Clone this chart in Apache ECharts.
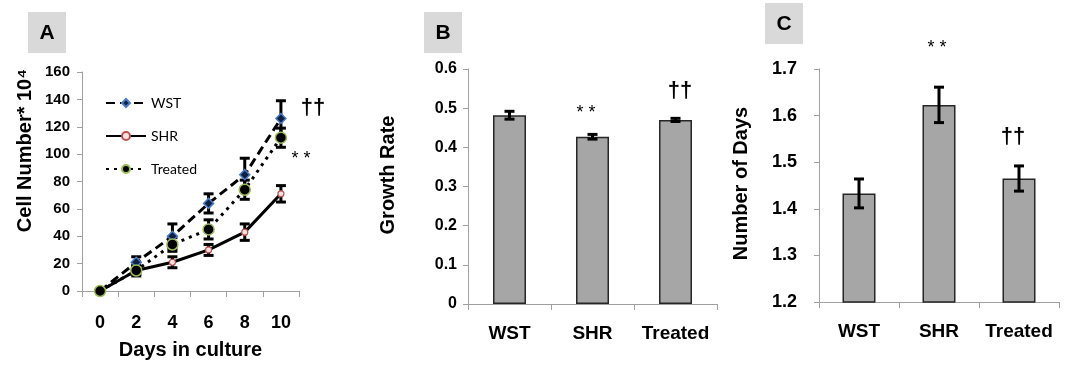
<!DOCTYPE html>
<html>
<head>
<meta charset="utf-8">
<title>Cell growth</title>
<script src="https://cdn.jsdelivr.net/npm/echarts@6/dist/echarts.min.js"></script>
<style>
  html, body { margin: 0; padding: 0; background: #fff; }
  #chart { width: 1075px; height: 365px; }
</style>
</head>
<body>
<div id="chart"></div>
<script>
// panel A - cell number over days in culture
const days = ['0', '2', '4', '6', '8', '10'];
const wst = [0, 21, 40, 64, 85, 126];
const wstErr = [0, 4, 9, 7, 12, 13];
const shr = [0, 15, 21, 30, 43, 71];
const shrErr = [0, 3, 4, 4, 6, 6];
const treated = [0, 15, 34, 45, 74, 112];
const treatedErr = [0, 4, 5, 7, 7, 7];

// panels B and C
const groups = ['WST', 'SHR', 'Treated'];
const growthRate = [0.482, 0.427, 0.470];
const growthErr = [0.010, 0.006, 0.004];
const doublingDays = [1.433, 1.623, 1.465];
const doublingErr = [0.031, 0.038, 0.027];

const FONT = '"Liberation Sans", Arial, sans-serif';
const axisGrey = '#a0a0a0';

const chart = echarts.init(document.getElementById('chart'), null, { renderer: 'canvas' });

// vertical error bar with caps, data item = [index, value, err]
function errorBar(params, api) {
  const e = api.value(2);
  if (!e) return null;
  const x = api.value(0), y = api.value(1);
  const hi = api.coord([x, y + e]);
  const lo = api.coord([x, y - e]);
  const w = 5;
  const st = { stroke: '#000', lineWidth: 3 };
  return {
    type: 'group',
    children: [
      { type: 'line', shape: { x1: hi[0], y1: hi[1], x2: lo[0], y2: lo[1] }, style: st },
      { type: 'line', shape: { x1: hi[0] - w, y1: hi[1], x2: hi[0] + w, y2: hi[1] }, style: st },
      { type: 'line', shape: { x1: lo[0] - w, y1: lo[1], x2: lo[0] + w, y2: lo[1] }, style: st }
    ]
  };
}

function errData(vals, errs) {
  return vals.map((v, i) => [i, v, errs[i]]);
}

function errSeries(idx, vals, errs) {
  return {
    type: 'custom',
    xAxisIndex: idx,
    yAxisIndex: idx,
    renderItem: errorBar,
    encode: { x: 0, y: 1 },
    data: errData(vals, errs),
    z: 3,
    silent: true
  };
}

function catAxis(idx, data, fontSize, margin) {
  return {
    type: 'category',
    gridIndex: idx,
    data: data,
    boundaryGap: true,
    axisLine: { lineStyle: { color: axisGrey, width: 1 } },
    axisTick: { show: true, length: 6, interval: 0, lineStyle: { color: axisGrey } },
    axisLabel: { interval: 0, color: '#000', fontWeight: 'bold', fontFamily: FONT, fontSize: fontSize, margin: margin }
  };
}

function valAxis(idx, min, max, interval, name, gap, pad, fontSize, margin, fmt) {
  return {
    type: 'value',
    gridIndex: idx,
    min: min,
    max: max,
    interval: interval,
    name: name,
    nameLocation: 'middle',
    nameGap: gap,
    nameTextStyle: { color: '#000', fontWeight: 'bold', fontFamily: FONT, fontSize: 20, padding: [0, 0, 0, pad] },
    axisLine: { show: true, lineStyle: { color: axisGrey, width: 1 } },
    axisTick: { show: true, length: 5, lineStyle: { color: axisGrey } },
    splitLine: { show: false },
    axisLabel: { color: '#000', fontWeight: 'bold', fontFamily: FONT, fontSize: fontSize, margin: margin, formatter: fmt }
  };
}

function panelLabel(letter, x, y) {
  return [
    { type: 'rect', shape: { x: x, y: y, width: 38, height: 41 }, style: { fill: '#d9d9d9' } },
    { type: 'text', x: x + 19, y: y + 21,
      style: { text: letter, fill: '#000', font: 'bold 21px ' + FONT, align: 'center', verticalAlign: 'middle' } }
  ];
}

function note(text, x, y, font) {
  return { type: 'text', x: x, y: y,
    style: { text: text, fill: '#000', font: font, align: 'center', verticalAlign: 'middle' } };
}

const dagger = 'bold 22px ' + FONT;
const star = '18px ' + FONT;

chart.setOption({
  animation: false,
  backgroundColor: '#fff',
  grid: [
    { left: 82, top: 72, width: 217, height: 219, outerBoundsMode: 'none' },
    { left: 468, top: 69, width: 249, height: 235, outerBoundsMode: 'none' },
    { left: 819, top: 69, width: 240, height: 233, outerBoundsMode: 'none' }
  ],
  legend: {
    orient: 'vertical',
    left: 100,
    top: 91,
    itemWidth: 40,
    itemHeight: 10,
    itemGap: 19,
    data: ['WST', 'SHR', 'Treated'],
    textStyle: { color: '#000', fontFamily: 'Lato, "Open Sans", sans-serif', fontSize: 14 }
  },
  xAxis: [
    Object.assign(catAxis(0, days, 18, 23), {
      name: 'Days in culture',
      nameLocation: 'middle',
      nameGap: 49,
      nameTextStyle: { color: '#000', fontWeight: 'bold', fontFamily: FONT, fontSize: 20 }
    }),
    catAxis(1, groups, 19, 20),
    catAxis(2, groups, 19, 20)
  ],
  yAxis: [
    valAxis(0, 0, 160, 20, 'Cell Number* 10\u2074', 47, 62, 15, 12),
    valAxis(1, 0, 0.6, 0.1, 'Growth Rate', 70, 23, 16, 11, v => (v === 0 ? '0' : v.toFixed(1))),
    valAxis(2, 1.2, 1.7, 0.1, 'Number of Days', 68, 4, 18, 22, v => v.toFixed(1))
  ],
  series: [
    errSeries(0, wst, wstErr),
    errSeries(0, shr, shrErr),
    errSeries(0, treated, treatedErr),
    {
      name: 'WST', type: 'line', xAxisIndex: 0, yAxisIndex: 0, data: wst,
      symbol: 'diamond', symbolSize: 10, z: 4,
      lineStyle: { color: '#000', width: 3, type: [9, 5] },
      itemStyle: { color: '#10213f', borderColor: '#4a7ac8', borderWidth: 1.5 }
    },
    {
      name: 'SHR', type: 'line', xAxisIndex: 0, yAxisIndex: 0, data: shr,
      symbol: 'circle', symbolSize: 6, z: 4,
      lineStyle: { color: '#000', width: 3 },
      itemStyle: { color: '#f4e4e4', borderColor: '#c0504d', borderWidth: 1.2 }
    },
    {
      name: 'Treated', type: 'line', xAxisIndex: 0, yAxisIndex: 0, data: treated,
      symbol: 'circle', symbolSize: 11, z: 4,
      lineStyle: { color: '#000', width: 3, type: [3, 5] },
      itemStyle: { color: '#000', borderColor: '#9bbb59', borderWidth: 1.5 }
    },
    {
      type: 'bar', xAxisIndex: 1, yAxisIndex: 1, data: growthRate, barWidth: 33,
      itemStyle: { color: '#a6a6a6', borderColor: '#262626', borderWidth: 1.5 }
    },
    errSeries(1, growthRate, growthErr),
    {
      type: 'bar', xAxisIndex: 2, yAxisIndex: 2, data: doublingDays, barWidth: 33,
      itemStyle: { color: '#a6a6a6', borderColor: '#262626', borderWidth: 1.5 }
    },
    errSeries(2, doublingDays, doublingErr)
  ],
  graphic: [].concat(
    panelLabel('A', 28, 12),
    panelLabel('B', 424, 12),
    panelLabel('C', 765, 3),
    [
      note('\u2020\u2020', 313, 108, dagger),
      note('* *', 301, 159, star),
      note('* *', 586, 113, star),
      note('\u2020\u2020', 680, 91, dagger),
      note('* *', 937, 48, star),
      note('\u2020\u2020', 1013, 137, dagger)
    ]
  )
});
</script>
</body>
</html>
